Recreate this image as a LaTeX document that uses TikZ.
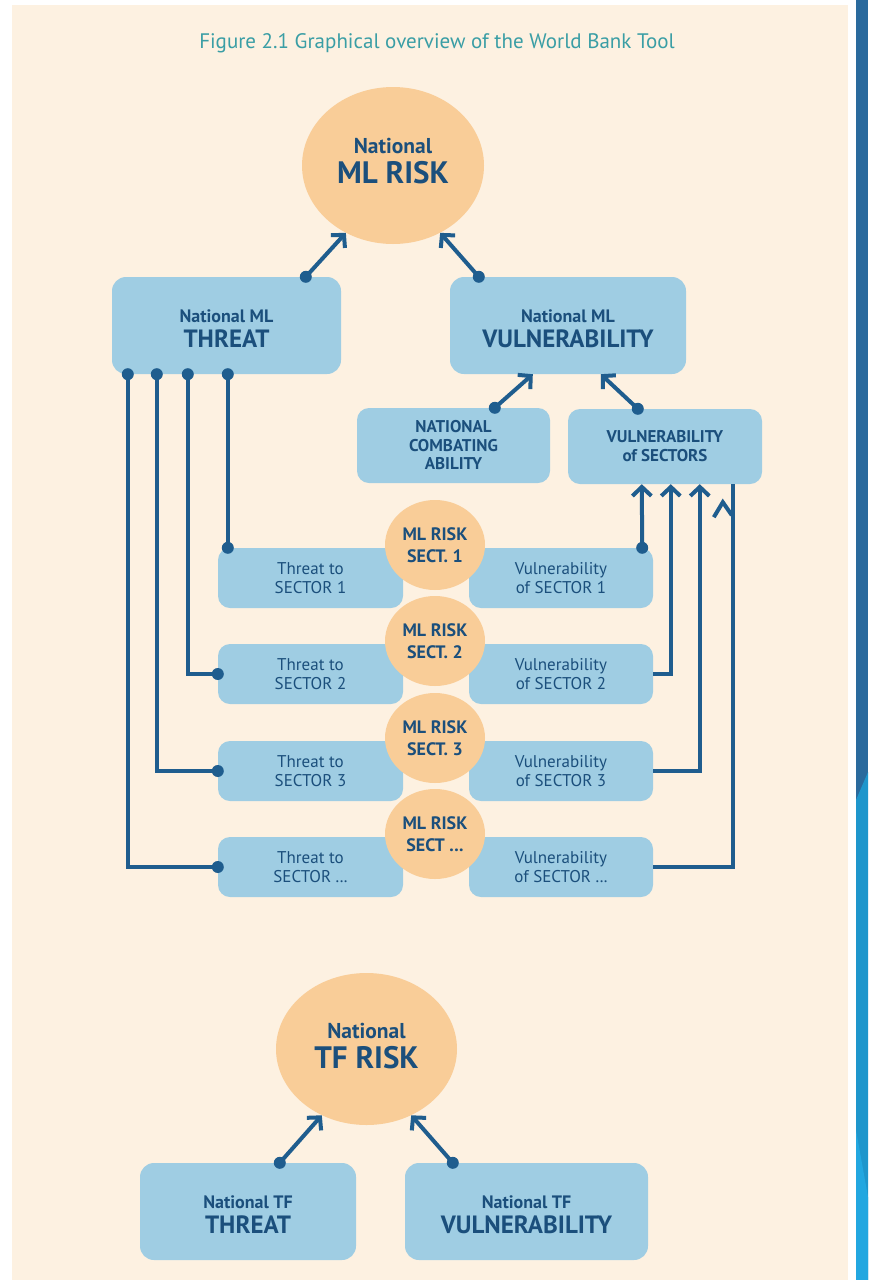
\documentclass[tikz,border=0pt]{standalone}
\usepackage{fontspec}
\setmainfont{PT Sans}
\usetikzlibrary{shapes.geometric,arrows.meta,calc}
\definecolor{cream}{HTML}{FDF1E1}
\definecolor{boxblue}{HTML}{9FCDE3}
\definecolor{peach}{HTML}{F9CD98}
\definecolor{lineblue}{HTML}{1F5D8E}
\definecolor{txtblue}{HTML}{1B4F7C}
\definecolor{titleteal}{HTML}{3A9EA5}
\definecolor{stripdark}{HTML}{2A6A9D}
\definecolor{stripmid}{HTML}{1E96CC}
\definecolor{striplight}{HTML}{22A7E0}
\newcommand{\mydots}{.\kern0.5pt.\kern0.5pt.}
\newcommand{\topstrut}{\rule{0pt}{19pt}}
\begin{document}
\begin{tikzpicture}[x=1pt,y=-1pt,
  box/.style={fill=boxblue, rounded corners=14pt, inner sep=0pt, text=txtblue, align=center, font=\bfseries\fontsize{18}{25}\selectfont},
  smallbox/.style={fill=boxblue, rounded corners=12pt, inner sep=0pt, text=txtblue, align=center, minimum height=75pt, font=\bfseries\fontsize{17}{18.5}\selectfont},
  secbox/.style={fill=boxblue, rounded corners=12pt, inner sep=0pt, text=txtblue, align=center, minimum height=60pt, font=\fontsize{17}{19}\selectfont},
  risk/.style={ellipse, fill=peach, inner sep=0pt, text=txtblue, align=center, font=\bfseries\fontsize{18}{22}\selectfont},
  risktext/.style={inner sep=0pt, text=txtblue, align=center, font=\bfseries\fontsize{21.5}{30}\selectfont},
  link/.style={draw=lineblue, line width=4pt},
  arrowlink/.style={link, -{Straight Barb[length=9pt,width=19pt]}},
  dotfill/.style={fill=lineblue}
]
\useasboundingbox (0,0) rectangle (868,1280);
\fill[white] (0,0) rectangle (868,1280);
\fill[cream] (12,5) rectangle (848,1280);
\fill[stripdark] (856,0) rectangle (868,1280);
\fill[stripmid] (856,800) -- (868,772) -- (868,1280) -- (856,1280) -- cycle;
\fill[striplight] (856,1130) -- (868,1197) -- (868,1280) -- (856,1280) -- cycle;

% title
\node[font=\fontsize{21}{24}\selectfont, text=titleteal] (title) at (437,43) {Figure 2.1 Graphical overview of the World Bank Tool};

% ML risk
\node[risk, minimum width=182pt, minimum height=157pt] (mlrisk) at (393,165.5) {};
\node[risktext] (mlriskt) at (393,161) {National\\{\fontsize{31}{31}\selectfont ML RISK}};

\node[box, minimum width=229pt, minimum height=97pt] (threat) at (226.5,325.5) {\topstrut National ML\\{\fontsize{25}{25}\selectfont THREAT}};
\node[box, minimum width=236pt, minimum height=97pt] (vuln) at (568,325.5) {\topstrut National ML\\{\fontsize{25}{25}\selectfont VULNERABILITY}};

\node[smallbox, minimum width=193pt] (combat) at (453.5,445.5) {NATIONAL\\COMBATING\\ABILITY};
\node[smallbox, minimum width=194pt, font=\bfseries\fontsize{17}{19}\selectfont] (vsec) at (665,446.5) {VULNERABILITY\\of SECTORS};

% sector rows
\foreach \i/\y/\lab/\slab in {1/578/1/SECT. 1, 2/674/2/SECT. 2, 3/771/3/SECT. 3, 4/867/{\mydots}/{SECT \mydots}} {
  \node[secbox, minimum width=185pt] (ts\i) at (310.5,\y) {Threat to\\SECTOR \lab};
  \node[secbox, minimum width=184pt] (vs\i) at (561,\y) {Vulnerability\\of SECTOR \lab};
  \node[risk, minimum width=100pt, minimum height=90pt] (rs\i) at (435,\y-33) {ML RISK\\\slab};
}

% connectors: top
\coordinate (ta) at ($(threat.north west)+(194,0)$);
\coordinate (va) at ($(vuln.north west)+(29,0)$);
\draw[arrowlink] (ta) -- (mlrisk.235);
\draw[arrowlink] (va) -- (mlrisk.305);
\fill[dotfill] (ta) circle (6pt);
\fill[dotfill] (va) circle (6pt);

\coordinate (ca) at ($(combat.north west)+(138,0)$);
\coordinate (cb) at ($(vuln.south west)+(83,0)$);
\coordinate (sa) at ($(vsec.north west)+(70,0)$);
\coordinate (sb) at ($(vuln.south west)+(151,0)$);
\draw[arrowlink] (ca) -- (cb);
\draw[arrowlink] (sa) -- (sb);
\fill[dotfill] (ca) circle (6pt);
\fill[dotfill] (sa) circle (6pt);

% threat to sectors
\coordinate (tb1) at ($(threat.south west)+(116,0)$);
\coordinate (tb2) at ($(threat.south west)+(76,0)$);
\coordinate (tb3) at ($(threat.south west)+(45,0)$);
\coordinate (tb4) at ($(threat.south west)+(16,0)$);
\coordinate (ts1c) at ($(ts1.north west)+(10,0)$);
\draw[link] (tb1) -- (ts1c);
\draw[link] (tb2) |- (ts2.west);
\draw[link] (tb3) |- (ts3.west);
\draw[link] (tb4) |- (ts4.west);
\foreach \p in {tb1,tb2,tb3,tb4,ts1c,ts2.west,ts3.west,ts4.west} \fill[dotfill] (\p) circle (6pt);

% vulnerability of sectors
\coordinate (vs1c) at ($(vs1.north east)+(-11,0)$);
\coordinate (vx1) at ($(vsec.south west)+(74,0)$);
\coordinate (vx2) at ($(vsec.south west)+(103,0)$);
\coordinate (vx3) at ($(vsec.south west)+(132,0)$);
\coordinate (vx4) at ($(vsec.south west)+(165,0)$);
\draw[arrowlink] (vs1c) -- (vx1);
\draw[arrowlink] (vs2.east) -| (vx2);
\draw[arrowlink] (vs3.east) -| (vx3);
\draw[link] (vs4.east) -| (vx4);
\draw[link] ($(vx4)+(-19,33)$) -- ($(vx4)+(-10,18)$) -- ($(vx4)+(-1,31)$);
\fill[dotfill] (vs1c) circle (6pt);

% TF
\node[risk, minimum width=181pt, minimum height=152pt] (tfrisk) at (366.5,1049) {};
\node[risktext] (tfriskt) at (366.5,1046.5) {National\\{\fontsize{31}{31}\selectfont TF RISK}};
\node[box, minimum width=216pt, minimum height=97pt] (tft) at (248,1211.5) {\topstrut National TF\\{\fontsize{25}{25}\selectfont THREAT}};
\node[box, minimum width=243pt, minimum height=97pt] (tfv) at (526.5,1211.5) {\topstrut National TF\\{\fontsize{25}{25}\selectfont VULNERABILITY}};
\coordinate (fa) at ($(tft.north west)+(140,0)$);
\coordinate (fb) at ($(tfv.north west)+(48,0)$);
\draw[arrowlink] (fa) -- (tfrisk.236);
\draw[arrowlink] (fb) -- (tfrisk.304);
\fill[dotfill] (fa) circle (6pt);
\fill[dotfill] (fb) circle (6pt);
\end{tikzpicture}
\end{document}
